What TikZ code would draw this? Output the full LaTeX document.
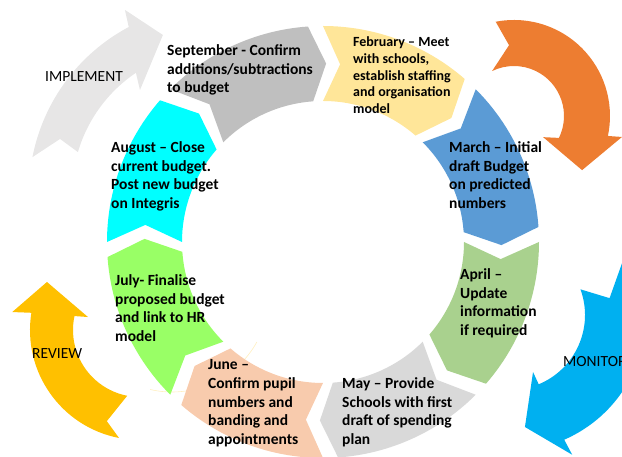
\documentclass[tikz,border=0pt]{standalone}
\usepackage{fontspec}
\setmainfont{Carlito}
\usepackage{tikz}

\definecolor{sepgray}{HTML}{BFBFBF}
\definecolor{febyellow}{HTML}{FFE699}
\definecolor{marblue}{HTML}{5B9BD5}
\definecolor{aprgreen}{HTML}{A9D18E}
\definecolor{maygray}{HTML}{D9D9D9}
\definecolor{junpeach}{HTML}{F8CBAD}
\definecolor{julgreen}{HTML}{99FF66}
\definecolor{augcyan}{HTML}{00FFFF}
\definecolor{implgray}{HTML}{E7E6E6}
\definecolor{arroworange}{HTML}{ED7D31}
\definecolor{monblue}{HTML}{00B0F0}
\definecolor{revgold}{HTML}{FFC000}

% ring radii
\def\rin{141pt}
\def\rmid{178.5pt}
\def\rout{216pt}

% one chevron of the year ring, #1 = start angle, #2 = colour
\newcommand{\ringpart}[2]{%
  \fill[#2] (#1:\rout) arc[start angle=#1, end angle=#1-41, radius=\rout]
    -- (#1-46:\rmid) -- (#1-41:\rin)
    arc[start angle=#1-41, end angle=#1, radius=\rin]
    -- (#1-5.5:\rmid) -- cycle;}

\begin{document}
\begin{tikzpicture}[x=1pt, y=1pt]
    \tikzstyle{month} = [anchor=north west, inner sep=0pt, align=left, font=\fontsize{15.5}{18.7}\selectfont\bfseries]
    \tikzstyle{stage} = [anchor=base west, inner sep=0pt, font=\fontsize{15.5}{18.7}\selectfont]

    \useasboundingbox (0,0) rectangle (622,457);

    % outer arrows
    \begin{scope}[shift={(217,264)}]
        \fill[implgray] (169:188pt) arc[start angle=169, end angle=118, radius=188pt]
            -- (116.7:205pt) -- (108.9:167pt) -- (126.8:128.6pt) -- (124:145pt)
            arc[start angle=124, end angle=163.6, radius=145pt] -- (161:166pt) -- cycle;
    \end{scope}
    \begin{scope}[shift={(514,341)}]
        \fill[arroworange] (101:96pt) arc[start angle=101, end angle=-12, radius=96pt]
            -- (-11:110pt) -- (-38.5:87pt) -- (-36:36pt) -- (-26:50pt)
            arc[start angle=-26, end angle=116, radius=50pt] -- (94:71pt) -- cycle;
    \end{scope}
    \begin{scope}[shift={(510,142)}]
        \fill[monblue] (30:136pt) arc[start angle=30, end angle=-66.5, radius=136pt]
            -- (-66:153pt) -- (-82.4:113pt) -- (-68:61.5pt) -- (-67.5:75pt)
            arc[start angle=-67.5, end angle=20, radius=75pt] -- (9.6:101pt) -- cycle;
    \end{scope}
    \begin{scope}[shift={(140,127)}]
        \fill[revgold] (-101:110pt) arc[start angle=-101, end angle=-189, radius=110pt]
            -- (-188:129pt) -- (-207.3:104.7pt) -- (-194:53.6pt) -- (-192:67pt)
            arc[start angle=-192, end angle=-101, radius=67pt] -- (-110:97pt) -- cycle;
    \end{scope}

    % thin guide line left behind the ring
    \draw[revgold!25, line width=0.6pt] (172,162) ++(-29:97pt) arc[start angle=-29, end angle=-103, radius=97pt];

    % the year ring
    \begin{scope}[shift={(323,215)}]
        \ringpart{135}{sepgray}
        \ringpart{90}{febyellow}
        \ringpart{45}{marblue}
        \ringpart{0}{aprgreen}
        \ringpart{-45}{maygray}
        \ringpart{-90}{junpeach}
        \ringpart{-135}{julgreen}
        \ringpart{-180}{augcyan}
    \end{scope}

    % month texts
    \node[month] (sep) at (167,412.5) {September - Confirm\\additions/subtractions\\to budget};
    \node[month, font=\fontsize{14}{16.8}\selectfont\bfseries] (feb) at (353,420.5) {February – Meet\\with schools,\\establish staffing\\and organisation\\model};
    \node[month] (mar) at (449,315.5) {March – Initial\\draft Budget\\on predicted\\numbers};
    \node[month] (apr) at (460,188.5) {April –\\Update\\information\\if required};
    \node[month] (may) at (342,79.5) {May – Provide\\Schools with first\\draft of spending\\plan};
    \node[month] (jun) at (208,97.5) {June –\\Confirm pupil\\numbers and\\banding and\\appointments};
    \node[month] (jul) at (115,182.5) {July- Finalise\\proposed budget\\and link to HR\\model};
    \node[month] (aug) at (111,315.5) {August – Close\\current budget.\\Post new budget\\on Integris};

    % stage labels
    \node[stage] (implement) at (45,375) {IMPLEMENT};
    \node[stage] (review) at (32,98) {REVIEW};
    \node[stage] (monitor) at (563,90) {MONITOR};
\end{tikzpicture}
\end{document}
